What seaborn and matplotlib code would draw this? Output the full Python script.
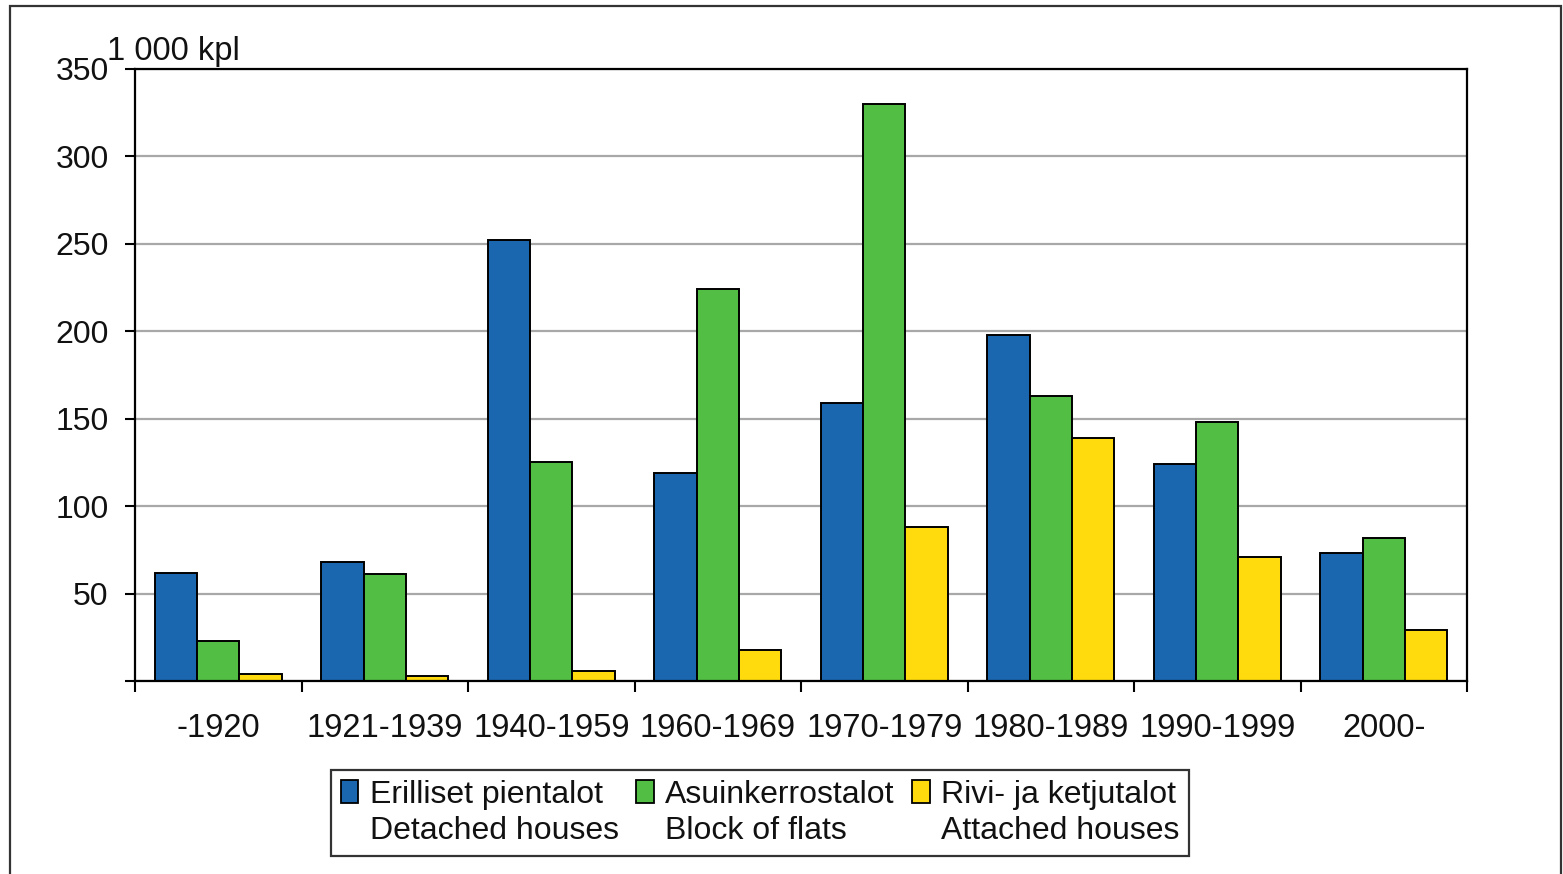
import numpy as np
import pandas as pd
import seaborn as sns
import matplotlib.pyplot as plt
from matplotlib.patches import Patch, Rectangle

periods = ['-1920', '1921-1939', '1940-1959', '1960-1969', '1970-1979', '1980-1989', '1990-1999', '2000-']
detached = [62, 68, 252, 119, 159, 198, 124, 73]
flats = [23, 61, 125, 224, 330, 163, 148, 82]
attached = [4, 3, 6, 18, 88, 139, 71, 29]

names_fi = ['Erilliset pientalot', 'Asuinkerrostalot', 'Rivi- ja ketjutalot']
names_en = ['Detached houses', 'Block of flats', 'Attached houses']
colors = ['#1a67b0', '#52be43', '#ffda0d']
yticks = [0, 50, 100, 150, 200, 250, 300, 350]
ytick_labels = ['', '50', '100', '150', '200', '250', '300', '350']

df = pd.DataFrame({
    'period': periods * 3,
    'value': detached + flats + attached,
    'type': [names_fi[0]] * 8 + [names_fi[1]] * 8 + [names_fi[2]] * 8,
})

sns.set_style('white')
plt.rcParams['font.family'] = ['Liberation Sans', 'DejaVu Sans']
plt.rcParams['text.color'] = '#111111'

W, H = 1563, 874
fig = plt.figure(figsize=(W / 100, H / 100), dpi=100)
ax = fig.add_axes([135 / W, 1 - 681 / H, (1467 - 135) / W, (681 - 69) / H])

sns.barplot(data=df, x='period', y='value', hue='type', order=periods, hue_order=names_fi,
            palette=colors, width=0.76, edgecolor='black', linewidth=1.4,
            saturation=1, legend=False, ax=ax)

ax.set_xlim(-0.5, 7.5)
ax.set_ylim(0, 350)
ax.set_yticks(yticks)
ax.set_yticklabels(ytick_labels)
ax.set_xlabel('')
ax.set_ylabel('')
ax.yaxis.grid(True, color='#a8a8a8', linewidth=1.6)
ax.set_axisbelow(True)
for s in ax.spines.values():
    s.set_color('black')
    s.set_linewidth(1.6)
    s.set_visible(True)

ax.tick_params(axis='y', which='major', left=True, length=7, width=1.5, color='black',
               pad=12, labelsize=23, labelcolor='#111111')
ax.tick_params(axis='x', which='major', bottom=False, length=0, pad=23, labelsize=23.5,
               labelcolor='#111111')
ax.set_xticks(np.arange(-0.5, 8, 1), minor=True)
ax.tick_params(axis='x', which='minor', bottom=True, length=8, width=1.5, color='black')

fig.text(107 / W, 1 - 60 / H, '1 000 kpl', fontsize=23.5, ha='left', va='baseline')

# legend: Finnish names with patches, English names below without patches
handles = []
labels = []
for c, fi, en in zip(colors, names_fi, names_en):
    handles.append(Patch(facecolor=c, edgecolor='black', linewidth=1.3))
    labels.append(fi)
    handles.append(Patch(facecolor='none', edgecolor='none'))
    labels.append(en)
leg = fig.legend(handles, labels, ncol=3, loc='center', bbox_to_anchor=(760 / W, 1 - 813 / H),
                 fontsize=23, frameon=True, fancybox=False, edgecolor='black',
                 handlelength=0.55, handleheight=0.7, handletextpad=0.35,
                 columnspacing=0.55, labelspacing=0.2, borderpad=0.3)
leg.get_frame().set_linewidth(1.6)

fig.patches.append(Rectangle((10 / W, -0.02), (1561 - 10) / W, 1 - 6 / H + 0.02,
                             transform=fig.transFigure, fill=False, edgecolor='#333333',
                             linewidth=1.6))

fig.savefig('out.png', dpi=100)
